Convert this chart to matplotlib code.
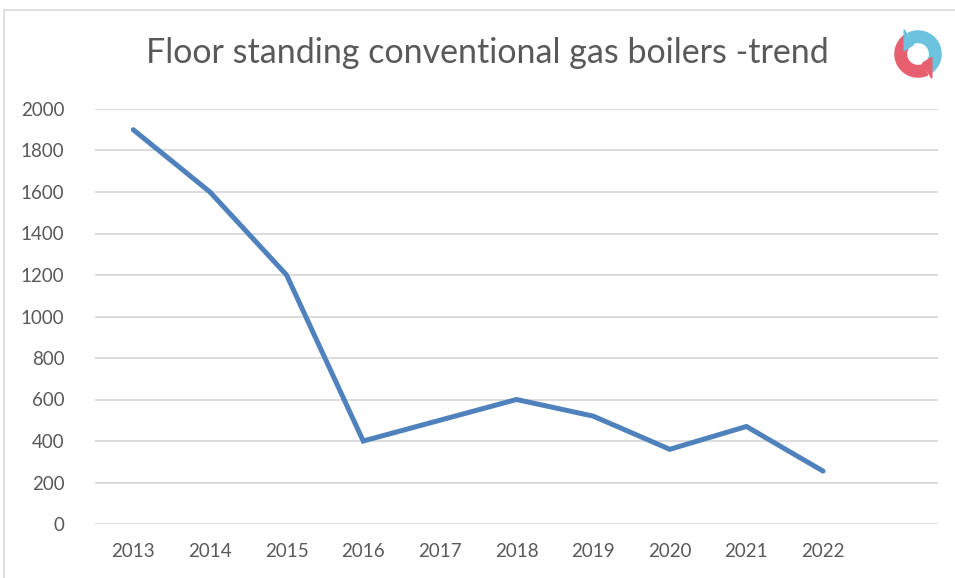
import matplotlib.pyplot as plt
from matplotlib.patches import Rectangle, Wedge, Polygon
import numpy as np

# data
years = ['2013', '2014', '2015', '2016', '2017', '2018', '2019', '2020', '2021', '2022']
units = [1900, 1600, 1200, 400, 500, 600, 520, 360, 470, 255]
yticks = [0, 200, 400, 600, 800, 1000, 1200, 1400, 1600, 1800, 2000]

plt.rcParams['font.family'] = ['Lato', 'DejaVu Sans']
grey_txt = '#595959'

fig = plt.figure(figsize=(9.55, 5.78), dpi=100)
ax = fig.add_axes([95/955, 54/578, 843/955, 415/578])

x = np.arange(len(years))
ax.plot(x, units, color='#4f81bd', lw=3.6, solid_joinstyle='miter', solid_capstyle='round', zorder=3)

ax.set_xlim(-0.5, len(years) + 0.5)
ax.set_ylim(0, 2000)
ax.set_yticks(yticks)
ax.set_yticklabels([str(v) for v in yticks])
ax.set_xticks(x)
ax.set_xticklabels(years)
ax.tick_params(axis='both', length=0, labelsize=13.5, labelcolor=grey_txt)
ax.tick_params(axis='y', pad=22)
ax.tick_params(axis='x', pad=14)
ax.grid(axis='y', color='#d9d9d9', lw=1.3)
ax.set_axisbelow(True)
for s in ax.spines.values():
    s.set_visible(False)

fig.text(487/955, 1 - 53/578, 'Floor standing conventional gas boilers -trend',
         ha='center', va='center', fontsize=24.5, color=grey_txt)

# chart border
fig.patches.append(Rectangle((4/955, -0.05), 1.0, 1 - 10/578 + 0.05, transform=fig.transFigure,
                             fill=False, ec='#d9d9d9', lw=1.2))

# small circular-arrows logo
lax = fig.add_axes([890/955, 1 - 84/578, 56/955, 60/578])
lax.set_xlim(-1.2, 1.2)
lax.set_ylim(-1.3, 1.3)
lax.set_aspect('equal')
lax.axis('off')
lax.add_patch(Wedge((0, 0), 1.0, -55, 115, width=0.5, color='#6cc3e0'))
lax.add_patch(Wedge((0, 0), 1.0, 125, 295, width=0.5, color='#e8606f'))
lax.add_patch(Polygon([[-0.6, 1.05], [-0.2, 0.4], [-0.6, 0.15]], color='#6cc3e0'))
lax.add_patch(Polygon([[0.6, -1.05], [0.2, -0.4], [0.6, -0.15]], color='#e8606f'))

fig.savefig('out.png', dpi=100)
